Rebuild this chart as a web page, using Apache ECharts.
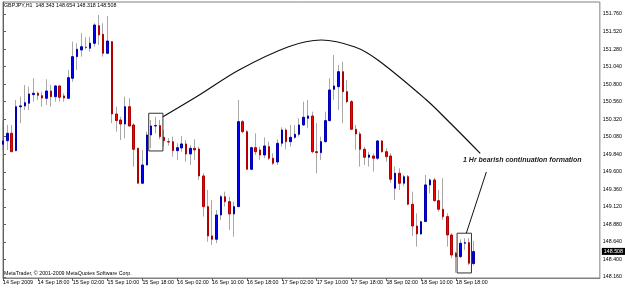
<!DOCTYPE html>
<html><head><meta charset="utf-8">
<script src="https://cdn.jsdelivr.net/npm/echarts@6/dist/echarts.min.js"></script>
<style>html,body{margin:0;padding:0;background:#fff}#c{width:625px;height:288px}</style>
</head><body><div id="c"></div>
<script>
const tickLabels = ['14 Sep 2009','14 Sep 18:00','15 Sep 02:00','15 Sep 10:00','15 Sep 18:00','16 Sep 02:00','16 Sep 10:00','16 Sep 18:00','17 Sep 02:00','17 Sep 10:00','17 Sep 18:00','18 Sep 02:00','18 Sep 10:00','18 Sep 18:00'];
const priceTicks = [148.16,148.40,148.64,148.88,149.12,149.36,149.60,149.84,150.08,150.32,150.56,150.80,151.04,151.28,151.52,151.76];

const opens = [149.977,150.026,150.127,149.889,150.490,150.501,150.538,150.656,150.675,150.642,
150.606,150.706,150.628,150.775,150.638,150.606,150.880,151.176,151.267,151.305,
151.291,151.359,151.600,151.482,151.222,151.381,150.391,150.309,150.254,150.491,
150.241,149.922,149.443,149.693,150.104,150.227,150.232,150.072,150.012,150.012,
149.889,149.926,149.981,149.844,149.922,149.912,149.543,149.123,148.722,148.676,
149.009,149.259,149.191,149.023,149.123,150.286,150.149,149.634,149.930,149.899,
149.830,149.944,149.785,149.734,149.990,150.172,150.012,150.072,150.113,150.241,
150.332,150.364,149.875,149.862,150.012,150.300,150.729,150.765,150.970,150.697,
150.560,150.182,150.118,149.908,149.799,149.816,149.785,150.022,149.875,149.816,
149.374,149.580,149.443,149.533,149.155,148.858,148.749,148.920,149.420,149.488,
149.205,149.087,148.986,148.735,148.485,148.438,148.622,148.630,148.343];
const highs = [150.309,150.241,150.241,150.583,150.628,150.788,150.765,150.880,150.697,150.697,
150.866,150.788,150.788,150.780,150.675,150.994,151.381,151.359,151.496,151.441,
151.449,151.633,151.746,151.633,151.733,151.390,150.491,150.354,150.628,150.606,
150.264,149.930,149.899,150.149,150.309,150.354,150.309,150.172,150.059,150.081,
149.990,150.090,150.035,149.967,150.045,149.944,149.580,149.351,149.214,149.077,
149.283,149.328,149.259,149.191,150.583,150.309,150.172,149.944,150.127,149.944,
150.072,150.012,149.853,150.045,150.209,150.196,150.241,150.241,150.332,150.560,
150.583,150.423,150.268,150.081,150.423,150.880,151.199,151.062,151.107,150.857,
150.583,150.241,150.149,149.944,149.875,149.853,150.035,150.035,149.922,149.853,
149.670,149.648,149.556,149.556,149.328,149.032,148.930,149.556,149.511,149.520,
149.351,149.511,149.032,148.758,148.507,148.676,148.690,148.690,148.654];
const lows = [149.899,149.899,149.870,149.880,150.264,150.446,150.446,150.560,150.583,150.491,
150.515,150.491,150.560,150.560,150.560,150.600,150.833,150.994,151.176,151.277,
151.244,151.312,151.336,151.176,151.215,150.264,150.149,150.035,150.059,150.218,
149.670,149.440,149.430,149.690,149.922,150.127,150.045,149.944,149.958,149.807,
149.762,149.875,149.738,149.693,149.762,149.488,148.986,148.643,148.598,148.622,
148.940,149.123,148.804,148.712,149.120,150.127,149.630,149.625,149.830,149.762,
149.785,149.762,149.693,149.693,149.944,149.908,149.944,150.050,150.081,150.230,
150.196,149.853,149.580,149.762,150.000,150.290,150.583,150.446,150.264,150.538,
150.172,149.899,149.670,149.693,149.670,149.602,149.762,149.862,149.738,149.451,
149.214,149.351,149.406,149.145,148.722,148.575,148.735,148.910,149.306,149.190,
149.054,148.940,148.575,148.416,148.219,148.416,148.530,148.325,148.318];
const closes = [150.022,150.127,149.875,150.491,150.502,150.546,150.665,150.675,150.647,150.610,
150.706,150.628,150.775,150.620,150.610,150.888,151.176,151.277,151.312,151.300,
151.359,151.609,151.473,151.222,151.390,150.391,150.300,150.254,150.491,150.227,
149.908,149.443,149.693,150.104,150.227,150.232,150.081,150.026,150.008,149.889,
149.930,149.981,149.844,149.922,149.899,149.543,149.123,148.722,148.676,149.009,
149.259,149.191,149.023,149.123,150.286,150.149,149.634,149.930,149.875,149.830,
149.953,149.785,149.717,149.990,150.172,150.012,150.072,150.113,150.241,150.346,
150.364,149.875,149.862,150.012,150.300,150.720,150.775,150.970,150.697,150.560,
150.182,150.118,149.908,149.799,149.830,149.785,150.022,149.875,149.807,149.498,
149.580,149.443,149.533,149.155,148.858,148.749,148.917,149.420,149.488,149.205,
149.087,148.986,148.735,148.461,148.438,148.622,148.630,148.348,148.508];

// annotation shapes in [bar index, price] coordinates
const arcPoints = [[36.71,150.354],[45.06,150.651],[54.17,150.994],[65.54,151.312],[73.05,151.404],[80.79,151.308],[86.03,151.130],[97.02,150.593],[101.96,150.309],[109.54,149.853]];
const box1 = [[33.45,149.885],[36.71,149.885],[36.71,150.401],[33.45,150.401],[33.45,149.885]];
const box2 = [[104.23,148.215],[107.53,148.215],[107.53,148.759],[104.23,148.759],[104.23,148.215]];
const pointer = [[106.35,148.759],[110.95,149.598]];

const totalSlots = 138;
const months = 'Sep';
const categories = [];
{ let d = 14, h = 10;
  for (let k = 0; k < totalSlots; k++) {
    categories.push(d + ' ' + months + ' ' + String(h).padStart(2,'0') + ':00');
    h++; if (h === 24) { h = 0; d++; }
  } }

const wickData = opens.map((o,i)=>[o, closes[i], lows[i], highs[i]]);
const bodyData = opens.map((o,i)=>[o, closes[i], Math.min(o,closes[i]), Math.max(o,closes[i])]);
const lastClose = closes[closes.length-1];

const FONT = 'Liberation Sans';
const tickShow = (idx) => idx % 8 === 0 && idx / 8 < tickLabels.length;

const chart = echarts.init(document.getElementById('c'), null, {renderer:'canvas'});
chart.setOption({
  animation: false,
  backgroundColor: '#fff',
  grid: { left: 2, right: 21, top: 2, bottom: 10, show: true, borderColor: '#808080', borderWidth: 1, backgroundColor: 'transparent' },
  xAxis: [{
    type: 'category', data: categories, boundaryGap: false,
    axisLine: { show: true, lineStyle: { color: '#808080', width: 1 } },
    axisTick: { show: true, interval: tickShow, length: 3, lineStyle: { color: '#606060' } },
    axisLabel: { interval: tickShow, formatter: (v, idx) => tickLabels[idx/8] || '', align: 'left',
      fontSize: 5.3, fontFamily: FONT, color: '#000', margin: 2 },
    splitLine: { show: false }
  }, {
    type: 'value', min: 0, max: totalSlots - 1, show: false
  }],
  yAxis: [{
    type: 'value', position: 'right', min: 148.146, max: 151.924, scale: true,
    axisLine: { show: true, lineStyle: { color: '#606060', width: 1 } },
    axisTick: { show: true, length: 3, customValues: priceTicks, lineStyle: { color: '#606060' } },
    axisLabel: { customValues: priceTicks, formatter: v => v.toFixed(3), fontSize: 5.3, fontFamily: FONT, color: '#000', margin: 3 },
    splitLine: { show: false }
  }],
  series: [{
    type: 'candlestick', name: 'wick', xAxisIndex: 0, yAxisIndex: 0, data: wickData, barWidth: 1,
    itemStyle: { color: '#a8a8a8', color0: '#a8a8a8', borderColor: '#a8a8a8', borderColor0: '#a8a8a8', borderWidth: 1 },
    emphasis: { disabled: true }
  }, {
    type: 'candlestick', name: 'body', xAxisIndex: 0, yAxisIndex: 0, data: bodyData, barWidth: 2,
    itemStyle: { color: '#0000ff', color0: '#ff0000', borderColor: '#0000b0', borderColor0: '#b00000', borderWidth: 1 },
    emphasis: { disabled: true },
    markLine: { silent: true, symbol: 'none', animation: false,
      lineStyle: { color: 'rgba(0,0,0,0)', width: 1, type: 'solid' },
      data: [{ yAxis: lastClose }],
      label: { show: true, position: 'end', distance: 2, formatter: () => lastClose.toFixed(3), backgroundColor: '#000', color: '#fff',
        fontSize: 5.3, fontFamily: FONT, padding: [1, 3, 1, 2], opacity: 1 } }
  }, {
    type: 'line', name: 'arc', xAxisIndex: 1, yAxisIndex: 0, data: arcPoints, smooth: 0.35, symbol: 'none',
    lineStyle: { color: '#111', width: 1.2 }, silent: true
  }, {
    type: 'line', name: 'box1', xAxisIndex: 1, yAxisIndex: 0, data: box1, symbol: 'none',
    lineStyle: { color: '#333', width: 1 }, silent: true
  }, {
    type: 'line', name: 'box2', xAxisIndex: 1, yAxisIndex: 0, data: box2, symbol: 'none',
    lineStyle: { color: '#333', width: 1 }, silent: true
  }, {
    type: 'line', name: 'pointer', xAxisIndex: 1, yAxisIndex: 0, data: pointer, symbol: 'none',
    lineStyle: { color: '#111', width: 1 }, silent: true
  }],
  graphic: [
    { type: 'text', left: 4, top: 3, style: { text: 'GBPJPY,H1  148.343 148.654 148.318 148.508', fontSize: 5.3, fontFamily: FONT, fill: '#000' } },
    { type: 'text', left: 4, top: 271, style: { text: 'MetaTrader, © 2001-2009 MetaQuotes Software Corp.', fontSize: 5.3, fontFamily: FONT, fill: '#000' } },
    { type: 'text', left: 463, top: 157, style: { text: '1 Hr bearish continuation formation', fontSize: 7, fontWeight: 'bold', fontStyle: 'italic', fontFamily: FONT, fill: '#222' } }
  ]
});
</script></body></html>
